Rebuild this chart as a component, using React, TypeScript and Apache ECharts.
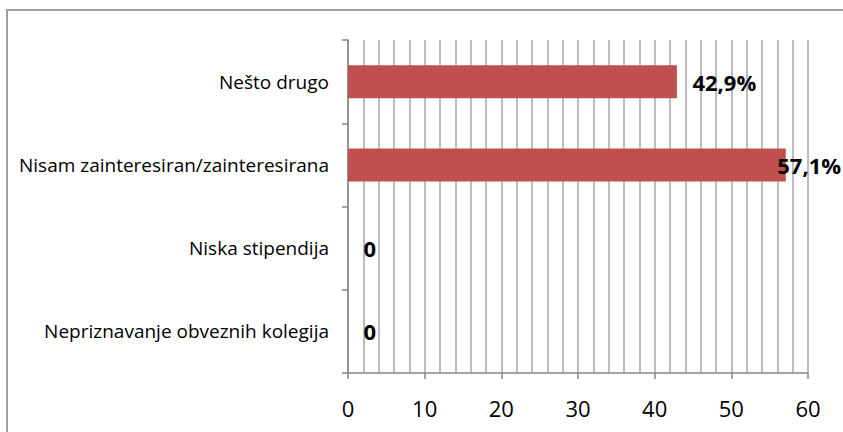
import React, { useEffect, useRef } from "react";
import * as echarts from "echarts";

const categories = [
  "Nešto drugo",
  "Nisam zainteresiran/zainteresirana",
  "Niska stipendija",
  "Nepriznavanje obveznih kolegija",
];
const values = [42.9, 57.1, 0, 0];
const xTicks = { min: 0, max: 60, major: 10, minorSplit: 5 };

export default function App() {
  const ref = useRef<HTMLDivElement>(null);
  useEffect(() => {
    const chart = echarts.init(ref.current!, null, { renderer: "svg" });
    const fmt = (v: number) => (v === 0 ? "0" : v.toFixed(1).replace(".", ",") + "%");
    const option: any = {
      animation: false,
      backgroundColor: "#ffffff",
      graphic: [
        {
          type: "rect",
          shape: { x: 7, y: 10, width: 900, height: 500 },
          style: { fill: "none", stroke: "#a0a0a0", lineWidth: 2 },
          silent: true,
        },
      ],
      grid: { left: 348, right: 35, top: 40, bottom: 59, containLabel: false },
      xAxis: {
        type: "value",
        min: xTicks.min,
        max: xTicks.max,
        interval: xTicks.major,
        axisLine: { show: true, lineStyle: { color: "#868686", width: 1.5 } },
        axisTick: { show: true, length: 6, lineStyle: { color: "#868686", width: 1.5 } },
        axisLabel: {
          margin: 24,
          color: "#000",
          fontFamily: "Open Sans",
          fontSize: 22,
        },
        splitLine: { show: true, lineStyle: { color: "#bdbdbd", width: 2 } },
        minorTick: { show: false, splitNumber: xTicks.minorSplit },
        minorSplitLine: { show: true, lineStyle: { color: "#bdbdbd", width: 2 } },
      },
      yAxis: {
        type: "category",
        data: categories,
        inverse: true,
        axisLine: { show: true, lineStyle: { color: "#868686", width: 1.5 } },
        axisTick: { show: true, length: 6, lineStyle: { color: "#868686", width: 1.5 } },
        axisLabel: {
          margin: 19,
          color: "#000",
          fontFamily: "Open Sans",
          fontSize: 19,
        },
        splitLine: { show: false },
      },
      series: [
        {
          type: "bar",
          barWidth: 33,
          itemStyle: { color: "#c0504d" },
          data: values.map((v, i) => ({
            value: v,
            label: i === 1 ? { offset: [-24, 0] } : undefined,
          })),
          label: {
            show: true,
            position: "right",
            distance: 15.5,
            color: "#000",
            fontFamily: "Open Sans",
            fontWeight: "bold",
            fontSize: 22,
            formatter: (p: any) => fmt(p.value),
          },
        },
      ],
    };
    chart.setOption(option);
    return () => chart.dispose();
  }, []);
  return (
    <div
      ref={ref}
      style={{ position: "fixed", left: 0, top: 0, width: 843, height: 432, background: "#fff" }}
    />
  );
}
